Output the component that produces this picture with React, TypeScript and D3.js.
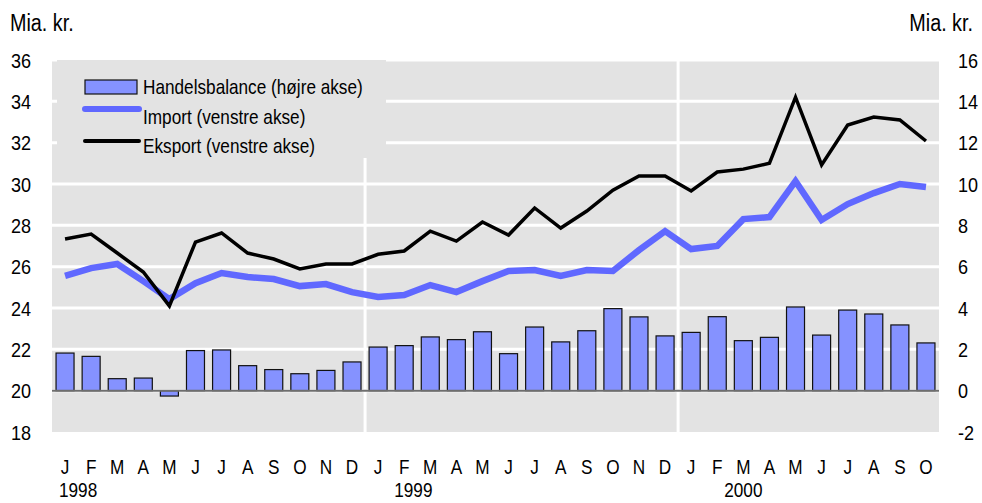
import React from 'react'
import * as d3 from 'd3'

/* svg size and the plot margins */
const width = 982
const height = 503
const margin = { top: 60, right: 43, bottom: 71, left: 52 }

/* month labels: Jan 1998 .. Oct 2000 */
const months = [
    'J', 'F', 'M', 'A', 'M', 'J', 'J', 'A', 'S', 'O', 'N', 'D',
    'J', 'F', 'M', 'A', 'M', 'J', 'J', 'A', 'S', 'O', 'N', 'D',
    'J', 'F', 'M', 'A', 'M', 'J', 'J', 'A', 'S', 'O',
]
const years = ['1998', '1999', '2000']

/* handelsbalance, right axis (mia. kr.) */
const balance = [
    1.82, 1.66, 0.58, 0.61, -0.26, 1.94, 1.97, 1.21, 1.02, 0.82, 0.98, 1.39,
    2.11, 2.18, 2.6, 2.47, 2.85, 1.79, 3.08, 2.36, 2.9, 3.97, 3.57, 2.65,
    2.82, 3.58, 2.42, 2.58, 4.05, 2.69, 3.9, 3.71, 3.18, 2.31,
]
/* import, left axis */
const importVals = [
    25.55, 25.93, 26.13, 25.3, 24.43, 25.2, 25.69, 25.5, 25.4, 25.06, 25.16, 24.77,
    24.53, 24.63, 25.11, 24.77, 25.3, 25.79, 25.84, 25.55, 25.84, 25.79, 26.8, 27.72,
    26.85, 27.0, 28.3, 28.4, 30.14, 28.26, 29.03, 29.56, 30.0, 29.85,
]
/* eksport, left axis */
const exportVals = [
    27.34, 27.58, 26.66, 25.74, 24.1, 27.19, 27.63, 26.66, 26.37, 25.89, 26.13, 26.13,
    26.6, 26.76, 27.72, 27.24, 28.16, 27.53, 28.84, 27.87, 28.69, 29.7, 30.39, 30.39,
    29.66, 30.58, 30.72, 31.0, 34.2, 30.92, 32.85, 33.24, 33.1, 32.08,
]

const leftTicks = [18, 20, 22, 24, 26, 28, 30, 32, 34, 36]
const rightTicks = [-2, 0, 2, 4, 6, 8, 10, 12, 14, 16]

const legendItems = [
    'Handelsbalance (højre akse)',
    'Import (venstre akse)',
    'Eksport (venstre akse)',
]

const font = '"Liberation Sans", Arial, sans-serif'
const bg = '#e3e3e3'
const barFill = '#8592ff'
const importColor = '#6068ff'

/* the original uses a narrow helvetica, so squeeze the text horizontally */
const squeeze = 0.86
const T = ({ x, y, anchor = 'start', size = 20, children }: any) => (
    <text
        transform={`translate(${x},${y}) scale(${squeeze},1)`}
        dy="0.36em"
        fontSize={size}
        textAnchor={anchor}
    >
        {children}
    </text>
)

export default function App() {
    const idx = months.map((_, i) => i)
    const x = d3
        .scaleBand<number>()
        .domain(idx)
        .range([margin.left, width - margin.right])
        .paddingInner(0.31)
        .paddingOuter(0.155)
    const step = x.step()
    const xCenter = (i: number) => (x(i) as number) + x.bandwidth() / 2
    const yLeft = d3
        .scaleLinear()
        .domain([18, 36])
        .range([height - margin.bottom, margin.top])
    const yRight = d3
        .scaleLinear()
        .domain([-2, 16])
        .range([height - margin.bottom, margin.top])

    const line = d3
        .line<number>()
        .x((_, i) => xCenter(i))
        .y((d) => yLeft(d))

    const plotLeft = margin.left
    const plotRight = width - margin.right
    const plotTop = margin.top
    const plotBottom = height - margin.bottom
    /* year boundaries sit between D and J */
    const yearLines = [12, 24].map((i) => margin.left + step * i)
    /* year labels are placed under their first months */
    const yearX = [margin.left + step * 1, margin.left + step * 13.85, margin.left + step * 26.5]

    return (
        <div style={{ position: 'absolute', left: 0, top: 0 }}>
            <svg width={width} height={height} style={{ display: 'block' }} fontFamily={font}>
                <rect x={0} y={0} width={width} height={height} fill="#fff" />
                {/* plot background */}
                <rect
                    x={plotLeft}
                    y={plotTop}
                    width={plotRight - plotLeft}
                    height={plotBottom - plotTop}
                    fill={bg}
                />
                {/* grid */}
                {leftTicks.slice(1).map((t) => (
                    <line
                        key={t}
                        x1={plotLeft}
                        x2={plotRight}
                        y1={yLeft(t)}
                        y2={yLeft(t)}
                        stroke="#fff"
                        strokeWidth={3}
                    />
                ))}
                {yearLines.map((v) => (
                    <line key={v} x1={v} x2={v} y1={plotTop} y2={plotBottom} stroke="#fff" strokeWidth={3} />
                ))}
                {/* legend box hides the grid */}
                <rect x={57} y={plotTop} width={329} height={98} fill={bg} />

                {/* bars */}
                {balance.map((d, i) => (
                    <rect
                        key={i}
                        x={x(i)}
                        y={yRight(Math.max(0, d))}
                        width={x.bandwidth()}
                        height={Math.abs(yRight(d) - yRight(0))}
                        fill={barFill}
                        stroke="#111"
                        strokeWidth={1.2}
                    />
                ))}
                {/* zero line */}
                <line
                    x1={plotLeft}
                    x2={plotRight}
                    y1={yRight(0)}
                    y2={yRight(0)}
                    stroke="#6e6e6e"
                    strokeWidth={2}
                />
                {/* import */}
                <path
                    d={line(importVals) as string}
                    fill="none"
                    stroke={importColor}
                    strokeWidth={6.5}
                    strokeLinejoin="miter"
                />
                {/* eksport */}
                <path
                    d={line(exportVals) as string}
                    fill="none"
                    stroke="#000"
                    strokeWidth={3.5}
                    strokeLinejoin="miter"
                />

                {/* legend */}
                <rect x={85} y={80} width={52} height={14} fill={barFill} stroke="#111" strokeWidth={1.2} />
                <line x1={85} x2={139} y1={109} y2={109} stroke={importColor} strokeWidth={6} strokeLinecap="round" />
                <line x1={85} x2={139} y1={141} y2={141} stroke="#000" strokeWidth={4} strokeLinecap="round" />
                {legendItems.map((t, i) => (
                    <T key={t} x={143} y={[87, 117, 146][i]}>
                        {t}
                    </T>
                ))}

                {/* left axis */}
                <T x={10} y={23} size={23}>
                    Mia. kr.
                </T>
                {leftTicks.map((t) => (
                    <T key={t} x={31} y={yLeft(t)} anchor="end" size={21}>
                        {t}
                    </T>
                ))}
                {/* right axis */}
                <T x={973} y={23} anchor="end" size={23}>
                    Mia. kr.
                </T>
                {rightTicks.map((t) => (
                    <T key={t} x={958} y={yRight(t)} size={21}>
                        {t}
                    </T>
                ))}
                {/* x axis */}
                {months.map((m, i) => (
                    <T key={i} x={xCenter(i)} y={467} anchor="middle">
                        {m}
                    </T>
                ))}
                {years.map((yr, i) => (
                    <T key={yr} x={yearX[i]} y={490} anchor="middle" size={20}>
                        {yr}
                    </T>
                ))}
            </svg>
        </div>
    )
}
